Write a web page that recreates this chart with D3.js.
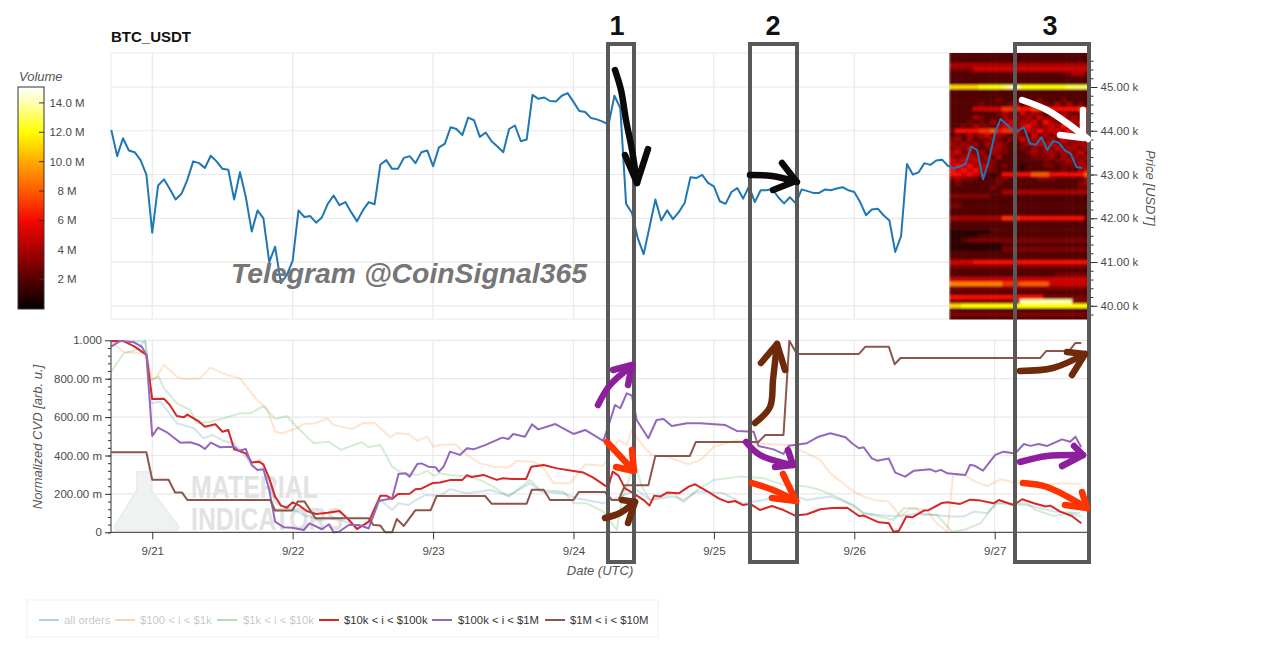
<!DOCTYPE html>
<html lang="en">
  <head>
    <meta charset="UTF-8" />
    <title>BTC_USDT</title>
    <script src="https://d3js.org/d3.v7.min.js"></script>
    <style>
      html, body { margin: 0; padding: 0; background: #fff; }
      svg { display: block; font-family: "Liberation Sans", Arial, sans-serif; }
      .axis text { fill: #4a4a4a; font-size: 11.5px; font-family: "Liberation Sans", Arial, sans-serif; }
      .axis line, .axis path { stroke: #333; }
      .grid line { stroke: #e9e9e9; stroke-width: 1.2; }
      .ital { font-style: italic; fill: #555; font-size: 13px; }
    </style>
  </head>
  <body>
    <svg width="1280" height="647"></svg>
    <script>
      // hours after 2021-09-20 17:00 UTC, one price per hour
      const startTime = Date.UTC(2021, 8, 20, 17);

      const priceValues = [
        44.02, 43.42, 43.83, 43.55, 43.51, 43.33, 43.0, 41.67, 42.75, 42.89, 42.67, 42.43, 42.56, 42.88,
        43.3, 43.26, 43.15, 43.43, 43.3, 43.13, 43.11, 42.43, 43.05, 42.48, 41.7, 42.18, 42.0, 41.0,
        41.35, 40.52, 40.7, 41.03, 42.18, 42.03, 42.05, 41.9, 42.02, 42.33, 42.52, 42.3, 42.37, 42.14,
        41.93, 42.18, 42.37, 42.32, 43.23, 43.33, 43.13, 43.13, 43.38, 43.42, 43.26, 43.51, 43.55,
        43.19, 43.62, 43.7, 44.08, 44.04, 43.9, 44.3, 44.24, 43.86, 43.96, 43.76, 43.64, 43.51, 44.04,
        44.12, 43.76, 43.8, 44.82, 44.73, 44.76, 44.68, 44.67, 44.8, 44.86, 44.66, 44.45, 44.43, 44.29,
        44.26, 44.21, 44.14, 44.8, 44.52, 42.33, 42.12, 41.54, 41.18, 41.8, 42.43, 41.95, 42.18, 41.98,
        42.14, 42.35, 42.94, 42.92, 42.99, 42.81, 42.73, 42.39, 42.33, 42.6, 42.69, 42.45, 42.73, 42.37,
        42.64, 42.64, 42.67, 42.48, 42.34, 42.48, 42.34, 42.66, 42.62, 42.58, 42.58, 42.66, 42.64, 42.68,
        42.71, 42.64, 42.6, 42.37, 42.07, 42.2, 42.22, 42.07, 41.95, 41.23, 41.59, 43.24, 43.0, 43.05,
        43.26, 43.22, 43.32, 43.34, 43.2, 43.14, 43.18, 43.24, 43.64, 43.56, 42.89, 43.32, 43.92, 44.27,
        44.15, 44.02, 44.0, 44.08, 43.71, 43.68, 43.85, 43.56, 43.77, 43.72, 43.55, 43.47, 43.17, 43.15,
      ];

      // [hour, normalized CVD]
      const cvdAll = [
        [0, 0.99], [3, 0.995], [5.8, 0.993], [6.8, 0.672], [8.4, 0.68], [9.5, 0.637], [11.2, 0.568], [14.1, 0.542],
        [15.8, 0.49], [17.2, 0.507], [19.2, 0.476], [21, 0.464], [23.8, 0.359], [25.5, 0.377], [27, 0.255],
        [28, 0.151], [30, 0.134], [32.9, 0.09], [35.7, 0.064], [38.6, 0.073], [42, 0.03], [44.3, 0.047], [46, 0.168],
        [48, 0.116], [49.1, 0.151], [50.8, 0.142], [52.3, 0.172], [53.7, 0.194], [56.2, 0.191], [57.9, 0.224],
        [60.8, 0.203], [64.8, 0.22], [67.9, 0.191], [71.6, 0.255], [73.3, 0.212], [77.3, 0.203], [79.6, 0.177],
        [84.1, 0.151], [87, 0.186], [89.8, 0.22], [92.1, 0.168], [96.1, 0.186], [97.8, 0.168], [100.1, 0.212],
        [104.6, 0.203], [108, 0.151], [111.5, 0.168], [115.5, 0.203], [118.9, 0.168], [122.9, 0.186], [124.6, 0.168],
        [126.9, 0.142], [128.6, 0.099], [133.7, 0.082], [138.3, 0.099], [143.4, 0.082], [145.7, 0.082], [147.4, 0.108],
        [149.7, 0.099], [151.4, 0.151], [156.5, 0.142], [161.1, 0.108], [165.6, 0.099],
      ];
      const cvd100 = [
        [0, 0.99], [2.1, 0.94], [4.4, 0.932], [5.8, 0.94], [7, 0.793], [7.8, 0.81], [9, 0.873], [11.2, 0.81], [12.4, 0.799],
        [15.2, 0.802], [16.9, 0.858], [19.8, 0.82], [22, 0.802], [24.9, 0.689], [26.6, 0.646], [28, 0.524], [29.2, 0.516],
        [31.7, 0.542], [32.9, 0.564], [34.9, 0.568], [36.9, 0.594], [38, 0.559], [41.1, 0.538], [43.1, 0.568], [45.1, 0.568],
        [47.7, 0.495], [48.8, 0.516], [50.8, 0.512], [52.3, 0.476], [54, 0.498], [55, 0.446], [56.2, 0.455], [58.8, 0.458],
        [60.8, 0.403], [63, 0.359], [65.3, 0.342], [67.9, 0.337], [69.3, 0.372], [72.2, 0.368], [73.9, 0.333], [75.6, 0.255],
        [78.4, 0.255], [81, 0.354], [84.1, 0.347], [86.7, 0.481], [88.1, 0.455], [89, 0.533], [91, 0.446], [92.4, 0.403],
        [95, 0.394], [98.7, 0.354], [100.7, 0.377], [103, 0.446], [106.9, 0.481], [109.2, 0.464], [115.5, 0.455],
        [118.9, 0.411], [121.2, 0.377], [122.9, 0.307], [126.9, 0.212], [128.6, 0.186], [130.9, 0.165], [132.9, 0.16],
        [134.9, 0.082], [136.6, 0.125], [139.4, 0.116], [141.1, 0.047], [142.9, 0.003], [143.9, 0.299], [145.7, 0.299],
        [147.7, 0.264], [149.7, 0.241], [152, 0.276], [154.2, 0.259], [157.7, 0.241], [162.2, 0.255], [165.8, 0.252],
      ];
      const cvd1k = [
        [0, 0.837], [2.1, 0.932], [4.4, 0.95], [5.8, 1.0], [6.7, 0.793], [8.1, 0.81], [9, 0.75], [11.2, 0.672], [13.5, 0.637],
        [14.6, 0.568], [16.9, 0.576], [19.2, 0.594], [22, 0.62], [23.8, 0.62], [26, 0.658], [28, 0.589], [30, 0.606],
        [31.7, 0.55], [34.6, 0.464], [37.2, 0.472], [39.2, 0.429], [42.8, 0.469], [44, 0.443], [46, 0.455], [48, 0.342],
        [49.7, 0.307], [52.5, 0.299], [54, 0.321], [55.1, 0.295], [56.2, 0.307], [57.9, 0.299], [60.8, 0.29], [63, 0.273],
        [65.3, 0.238], [67.9, 0.186], [71.6, 0.273], [73.3, 0.22], [77.3, 0.212], [79, 0.151], [81.3, 0.151], [84.1, 0.108],
        [86.4, 0.012], [87.3, 0.177], [89.5, 0.359], [90.7, 0.238], [92.1, 0.168], [96.1, 0.203], [97.8, 0.156], [100.1, 0.22],
        [103, 0.273], [107.5, 0.29], [111.5, 0.281], [114.9, 0.247], [118.9, 0.238], [121.2, 0.22], [124.6, 0.177],
        [126.9, 0.134], [128.6, 0.099], [131.2, 0.082], [133.7, 0.064], [135.4, 0.125], [137.7, 0.125], [138.5, 0.09],
        [141.1, 0.09], [143.7, 0.003], [145.7, 0.012], [148.6, 0.047], [151.1, 0.151], [156.5, 0.151], [158, 0.116],
        [161.1, 0.085], [163.9, 0.099], [165.8, 0.082],
      ];
      const cvd10k = [
        [0, 0.997], [2, 0.997], [4, 0.967], [6, 0.924], [7, 0.694], [9, 0.696], [10, 0.663], [11.2, 0.606], [12.4, 0.599],
        [13, 0.613], [15, 0.576], [16, 0.55], [17.8, 0.5625], [19, 0.524], [20, 0.533], [21, 0.432], [23, 0.411], [24, 0.363],
        [25.2, 0.368], [26, 0.354], [27, 0.281], [28, 0.186], [29, 0.139], [30, 0.128], [31, 0.156], [32, 0.142], [33.4, 0.111],
        [35, 0.095], [37, 0.102], [39, 0.111], [40.5, 0.068], [42, 0.017], [44, 0.056], [46, 0.191], [47, 0.191], [48, 0.174],
        [49, 0.2], [51, 0.201], [52, 0.224], [53, 0.227], [55, 0.257], [56.2, 0.259], [58, 0.273], [60, 0.273], [60.8, 0.297],
        [61.6, 0.288], [63.6, 0.299], [65.9, 0.273], [66.8, 0.281], [68.7, 0.278], [70.9, 0.278], [71.8, 0.342], [73.9, 0.351],
        [76.2, 0.333], [79, 0.319], [80.7, 0.311], [82.4, 0.285], [84.4, 0.243], [85, 0.241], [85.7, 0.316], [86.7, 0.295],
        [87.8, 0.229], [89, 0.208], [91, 0.168], [92, 0.139], [92.8, 0.191], [93.8, 0.186], [95, 0.207], [97, 0.203],
        [98.7, 0.238], [99.8, 0.25], [101.8, 0.215], [103.8, 0.177], [105.5, 0.156], [106.6, 0.163], [108, 0.142],
        [109.2, 0.148], [110.9, 0.116], [112.9, 0.137], [114.9, 0.116], [116.9, 0.087], [118.9, 0.094], [121.2, 0.12],
        [123.2, 0.127], [125.8, 0.128], [127.8, 0.085], [128.6, 0.087], [131.2, 0.052], [132.9, 0.047], [133.7, 0.003],
        [134.6, 0.007], [135.9, 0.082], [136.9, 0.078], [138.9, 0.113], [139.7, 0.115], [142, 0.153], [142.9, 0.156],
        [145.1, 0.148], [146.8, 0.17], [148.6, 0.165], [150.8, 0.151], [151.7, 0.168], [154.2, 0.142], [155.7, 0.172],
        [157.7, 0.151], [159.7, 0.134], [160.5, 0.139], [162.2, 0.108], [164.2, 0.085], [165.8, 0.047],
      ];
      const cvd100k = [
        [0, 0.967], [1.5, 0.997], [3.8, 0.99], [5.2, 0.967], [6, 0.924], [7, 0.502], [8, 0.545], [9.5, 0.521], [10.6, 0.495],
        [11.8, 0.467], [13.5, 0.469], [15, 0.455], [16, 0.434], [17, 0.467], [18.6, 0.443], [21, 0.446], [21.8, 0.425],
        [23, 0.434], [24, 0.351], [25, 0.325], [26, 0.328], [27, 0.22], [28, 0.056], [29.5, 0.026], [30.9, 0.024], [32.9, 0.012],
        [33.9, 0.047], [36, 0.016], [37.2, 0.042], [38, 0], [38.9, 0.003], [40.6, 0.038], [42.3, 0.038], [43.1, 0.03], [44, 0.02],
        [45.7, 0.163], [48, 0.177], [49.1, 0.304], [50.3, 0.307], [51, 0.29], [52.3, 0.356], [53, 0.359], [54.2, 0.342],
        [55.4, 0.339], [56, 0.316], [56.8, 0.342], [57.9, 0.42], [59.6, 0.403], [60.8, 0.438], [61.9, 0.432], [63.9, 0.454],
        [66.8, 0.493], [67.9, 0.486], [68.7, 0.512], [70.7, 0.498], [71.9, 0.562], [73, 0.536], [75.9, 0.564], [79, 0.512],
        [81, 0.533], [84.1, 0.476], [85.3, 0.585], [86.1, 0.663], [87, 0.646], [88.1, 0.724], [89, 0.712], [89.8, 0.585],
        [91.8, 0.49], [93.2, 0.585], [94.4, 0.59], [95.8, 0.554], [98.4, 0.568], [100.7, 0.568], [104.9, 0.559], [106.9, 0.528],
        [109.8, 0.524], [110.6, 0.45], [113.2, 0.432], [114.9, 0.408], [115.8, 0.451], [118.9, 0.464], [120.9, 0.498],
        [122.9, 0.516], [125.5, 0.495], [126.6, 0.464], [127.8, 0.4375], [128.6, 0.443], [130, 0.385], [130.9, 0.373],
        [132.9, 0.384], [134, 0.311], [135.7, 0.29], [137.2, 0.321], [140, 0.328], [140.9, 0.316], [141.8, 0.325], [142.9, 0.307],
        [146, 0.299], [146.8, 0.352], [147.7, 0.345], [149, 0.321], [151.1, 0.403], [152.5, 0.42], [154.5, 0.411], [156, 0.46],
        [157.1, 0.45], [158.5, 0.46], [160, 0.45], [162.5, 0.484], [163.9, 0.472], [164.8, 0.498], [165.8, 0.443],
      ];
      const cvd1M = [
        [0, 0.417], [6, 0.417], [7, 0.274], [9.8, 0.274], [10.9, 0.207], [12.1, 0.207], [13, 0.168], [27.2, 0.168], [28, 0.113],
        [30.9, 0.113], [31.9, 0.161], [33, 0.161], [34.9, 0.073], [44, 0.073], [44.8, 0.038], [46, 0.035], [46.8, 0], [48, 0],
        [48.8, 0.069], [50, 0.033], [52, 0.115], [54.6, 0.115], [55.6, 0.189], [63.9, 0.189], [65, 0.149], [71, 0.149],
        [71.9, 0.222], [73.9, 0.222], [75, 0.168], [79, 0.168], [79.9, 0.21], [84.4, 0.21], [85.6, 0.168], [86.7, 0.168],
        [87.8, 0.245], [91.8, 0.245], [93, 0.398], [98.9, 0.398], [99.9, 0.47], [110.6, 0.47], [111.8, 0.507], [114.9, 0.507],
        [115.9, 0.997], [117.2, 0.929], [127.8, 0.929], [128.9, 0.967], [132.9, 0.967], [133.9, 0.875], [134.9, 0.908],
        [158.8, 0.908], [159.8, 0.944], [163.7, 0.944], [164.8, 0.986], [165.8, 0.986],
      ];

      const seriesNames = ["all orders", "$100 < i < $1k", "$1k < i < $10k", "$10k < i < $100k", "$100k < i < $1M", "$1M < i < $10M"];
      const seriesValues = [cvdAll, cvd100, cvd1k, cvd10k, cvd100k, cvd1M];

      // order book volume in M (hex digit per hour), top row 45.8 k, bottom row 39.7 k
      const heatFirstHour = 143.25;
      const heatTopPrice = 45.8;
      const heatRows = [
        "222222222222222222222222",
        "222222222222222222222222", "222222222222222222222222", "444444444444444444444444", "333355555555555555555555",
        "222222222222222222223443", "222222222222222222222222", "222222222222222222222222", "bbbbbccccdeeccccccccdddd",
        "222222222222222222222222", "222222222222222222222222", "222222223222222322232222", "222223222234232332424232",
        "222255555777667766666676", "222222223432534323343232", "222243222434343534453423", "222323242453445364345453",
        "223243324553564345464343", "366667786776354645546453", "232434534324325343443454", "342423343233534434354345",
        "434342434322343545343444", "343532344322324343534434", "453434243322234344344353", "434543424222223334243434",
        "545453332222222232334343", "565645432322122233233344", "656564332222122222232245", "665654212666668886666668",
        "343322223322222333222224", "232222223222222222222234", "222222232222222222222233", "222222222444444444444444",
        "333333322222222222222222", "222222222222222222222222", "332222222222222222222222", "222222222222222222222222",
        "222222222222222222222222", "444444444777666666666663", "222222222222222222222222", "222222222222222222222222",
        "111111122222222222222222", "111112222222222222222222", "112333333333333333333333", "111111111222222222222222",
        "111111111333333333333333", "222222222222222222222222", "222222222222222222222222", "555566666666666666666666",
        "333333333333333333333333", "222222222222222222222222", "222222222222222222333333", "555555555555555555555555",
        "999999999777888885555555", "333333333333333333333333", "222222222222222222222222", "666666666666666633333333",
        "333333333333eeeeeeeee333", "bbcccccccccccccccccccccc", "222222222222222222222222", "333333333333333333333333",
        "222222222222222222222222",
      ];

      const priceTicks = [40, 41, 42, 43, 44, 45];
      const cvdTicks = [0, 0.2, 0.4, 0.6, 0.8, 1];
      const cvdTickLabels = ["0", "200.00 m", "400.00 m", "600.00 m", "800.00 m", "1.000"];
      const volumeTicks = [2, 4, 6, 8, 10, 12, 14];
      const volumeTickLabels = ["2 M", "4 M", "6 M", "8 M", "10.0 M", "12.0 M", "14.0 M"];

      const svg = d3.select("svg");
      const t = (h) => new Date(startTime + h * 3600e3);

      const x = d3.scaleUtc().domain([t(0), t(167)]).range([111.3, 1088.3]);
      const yPrice = d3.scaleLinear().domain([40, 45]).range([305.8, 87]);
      const yCvd = d3.scaleLinear().domain([0, 1]).range([532.3, 340.3]);
      const yVol = d3.scaleLinear().domain([0, 15.08]).range([308.7, 87]);
      const fire = d3
        .scaleLinear()
        .domain([0, 1, 2, 4, 6, 8, 10, 12, 14, 15.08])
        .range(["#000000", "#2c0000", "#520000", "#a80000", "#f20800", "#ff5a00", "#ffa800", "#ffff00", "#ffffb0", "#ffffff"]);

      const dayTicks = x.ticks(d3.utcDay).filter((d) => d > t(1));

      const defs = svg.append("defs");
      defs.append("clipPath").attr("id", "heatClip").append("rect")
        .attr("x", 949).attr("y", 53).attr("width", 139).attr("height", 266.5);
      defs.append("filter").attr("id", "soft").attr("x", "-5%").attr("y", "-5%").attr("width", "110%").attr("height", "110%")
        .append("feGaussianBlur").attr("stdDeviation", 0.8);

      // grid, upper panel
      const grid = svg.append("g").attr("class", "grid");
      grid.append("rect").attr("x", 111).attr("y", 53).attr("width", 978).attr("height", 266).attr("fill", "none").attr("stroke", "#e9e9e9");
      grid.selectAll(".gp").data(priceTicks).enter().append("line")
        .attr("x1", 111).attr("x2", 1089).attr("y1", yPrice).attr("y2", yPrice);
      grid.selectAll(".gd").data(dayTicks).enter().append("line")
        .attr("x1", x).attr("x2", x).attr("y1", 53).attr("y2", 319);
      // grid, lower panel
      grid.selectAll(".gc").data(cvdTicks).enter().append("line")
        .attr("x1", 111).attr("x2", 1089).attr("y1", yCvd).attr("y2", yCvd);
      grid.selectAll(".gd2").data(dayTicks).enter().append("line")
        .attr("x1", x).attr("x2", x).attr("y1", 340).attr("y2", 532);

      // heatmap
      const heat = svg.append("g").attr("clip-path", "url(#heatClip)").append("g").attr("filter", "url(#soft)");
      heatRows.forEach((row, r) => {
        const p = heatTopPrice - r * 0.1;
        heat.selectAll(null).data(row.split("")).enter().append("rect")
          .attr("x", (d, i) => x(t(heatFirstHour + i)))
          .attr("width", (d, i) => x(t(heatFirstHour + i + 1)) - x(t(heatFirstHour + i)) + 0.5)
          .attr("y", yPrice(p + 0.05))
          .attr("height", yPrice(p - 0.05) - yPrice(p + 0.05) + 0.5)
          .attr("fill", (d) => fire(parseInt(d, 16)));
      });

      // price axis on the right
      svg.append("g").attr("class", "axis").attr("transform", "translate(1090.5,0)")
        .call(d3.axisRight(yPrice).tickValues(priceTicks).tickSize(7).tickFormat((d) => d.toFixed(2) + " k"))
        .call((g) => g.select(".domain").remove());
      svg.append("g").attr("class", "axis").attr("transform", "translate(1090.5,0)")
        .call(d3.axisRight(yPrice).tickValues(d3.range(39.8, 45.8, 0.2)).tickSize(3).tickFormat(""))
        .call((g) => g.select(".domain").remove());

      // price line
      svg.append("path").datum(priceValues)
        .attr("fill", "none").attr("stroke", "#1f77b4").attr("stroke-width", 2).attr("stroke-linejoin", "round")
        .attr("d", d3.line().x((d, i) => x(t(i))).y((d) => yPrice(d)));

      // faint logo behind the lower panel
      const logo = svg.append("g").attr("fill", "#e2e2e2");
      logo.append("path").attr("fill", "#eef3f1").attr("stroke", "#ececec").attr("stroke-width", 2)
        .attr("d", "M137 472 L151 472 L151 490 L178 526 Q180 530 175 530 L118 530 Q113 530 115 526 L137 490 Z");
      logo.append("text").attr("x", 191).attr("y", 498).attr("font-size", 31).attr("font-weight", "bold")
        .attr("textLength", 127).attr("lengthAdjust", "spacingAndGlyphs").text("MATERIAL");
      logo.append("text").attr("x", 191).attr("y", 530).attr("font-size", 31).attr("font-weight", "bold")
        .attr("textLength", 152).attr("lengthAdjust", "spacingAndGlyphs").text("INDICATORS");

      // cvd lines
      const lineCvd = d3.line().x((d) => x(t(d[0]))).y((d) => yCvd(d[1]));
      const lineColours = ["#1f77b4", "#ff7f0e", "#2ca02c", "#d62728", "#9467bd", "#8c564b"];
      const lineAlpha = [0.2, 0.2, 0.2, 1, 1, 1];
      svg.selectAll(".cvd").data(seriesValues).enter().append("path")
        .attr("fill", "none").attr("stroke-width", 2).attr("stroke-linejoin", "round")
        .attr("stroke", (d, i) => lineColours[i]).attr("stroke-opacity", (d, i) => lineAlpha[i])
        .attr("d", lineCvd);

      // lower axes
      svg.append("g").attr("class", "axis").attr("transform", "translate(111,0)")
        .call(d3.axisLeft(yCvd).tickValues(cvdTicks).tickSize(6).tickFormat((d, i) => cvdTickLabels[i]))
        .call((g) => g.select(".domain").attr("d", `M0,${yCvd(1)}V${yCvd(0)}`));
      svg.append("g").attr("class", "axis").attr("transform", "translate(111,0)")
        .call(d3.axisLeft(yCvd).tickValues(d3.range(0, 1, 0.04)).tickSize(3).tickFormat(""))
        .call((g) => g.select(".domain").remove());
      svg.append("g").attr("class", "axis").attr("transform", "translate(0,532.3)")
        .call(d3.axisBottom(x).tickValues(dayTicks).tickSize(7).tickPadding(8).tickFormat(d3.utcFormat("%-m/%-d")))
        .call((g) => g.select(".domain").attr("d", "M111,0H1089"));

      // titles
      svg.append("text").attr("x", 111).attr("y", 42).attr("font-size", 15).attr("font-weight", "bold").attr("fill", "#111").text("BTC_USDT");
      svg.append("text").attr("class", "ital").attr("x", 19).attr("y", 81).text("Volume");
      svg.append("text").attr("class", "ital").attr("transform", "translate(1146,188) rotate(90)").attr("text-anchor", "middle").text("Price [USDT]");
      svg.append("text").attr("class", "ital").attr("transform", "translate(42,437) rotate(-90)").attr("text-anchor", "middle").text("Normalized CVD [arb. u.]");
      svg.append("text").attr("class", "ital").attr("x", 600).attr("y", 575).attr("text-anchor", "middle").text("Date (UTC)");

      // colour bar
      const grad = defs.append("linearGradient").attr("id", "vol").attr("x1", 0).attr("x2", 0).attr("y1", 1).attr("y2", 0);
      d3.range(0, 15.1, 0.5).forEach((v) => grad.append("stop").attr("offset", v / 15.08).attr("stop-color", fire(Math.min(v, 15.08))));
      svg.append("rect").attr("x", 18).attr("y", 87).attr("width", 26).attr("height", 222).attr("fill", "url(#vol)").attr("stroke", "#333");
      svg.selectAll(".vt").data(volumeTicks).enter().append("line")
        .attr("x1", 39).attr("x2", 44).attr("y1", yVol).attr("y2", yVol).attr("stroke", "#333");
      svg.selectAll(".vl").data(volumeTicks).enter().append("text")
        .attr("x", 67).attr("y", (d) => yVol(d) + 4).attr("text-anchor", "middle")
        .attr("font-size", 11.5).attr("fill", "#4a4a4a").text((d, i) => volumeTickLabels[i]);

      // legend
      const legendLineX = [39, 115, 217, 319, 432, 545];
      const legendTextX = [64, 140, 243, 344, 458, 570];
      const legendAlpha = [0.3, 0.3, 0.3, 1, 1, 1];
      svg.append("rect").attr("x", 27).attr("y", 600).attr("width", 631).attr("height", 37).attr("fill", "none").attr("stroke", "#f0f0f0");
      seriesNames.forEach((name, i) => {
        svg.append("line").attr("x1", legendLineX[i]).attr("x2", legendLineX[i] + 20).attr("y1", 620).attr("y2", 620)
          .attr("stroke", lineColours[i]).attr("stroke-width", 2).attr("stroke-opacity", i < 3 ? 0.35 : 1);
        svg.append("text").attr("x", legendTextX[i]).attr("y", 624).attr("font-size", 11.3)
          .attr("fill", "#333").attr("fill-opacity", legendAlpha[i]).text(name);
      });

      // watermark
      svg.append("text").attr("x", 231).attr("y", 283).attr("font-size", 28).attr("font-weight", "bold").attr("font-style", "italic")
        .attr("fill", "#767676").attr("textLength", 356).attr("lengthAdjust", "spacingAndGlyphs").text("Telegram @CoinSignal365");

      // hand drawn annotation over the screenshot, in page pixels
      const boxes = [[608, 44, 26, 518, "1", 617], [750, 44, 47, 518, "2", 773], [1015, 44, 74, 518, "3", 1050]];
      boxes.forEach((b) => {
        svg.append("rect").attr("x", b[0]).attr("y", b[1]).attr("width", b[2]).attr("height", b[3])
          .attr("fill", "none").attr("stroke", "#595959").attr("stroke-width", 4);
        svg.append("text").attr("x", b[5]).attr("y", 35).attr("text-anchor", "middle").attr("font-size", 27)
          .attr("font-weight", "bold").attr("fill", "#111").text(b[4]);
      });
      const arrows = [
        { c: "#0a0a0a", shaft: [[615, 70], [621, 90], [626, 120], [632, 150], [637, 183]], head: [[625, 155], [637, 183], [648, 149]] },
        { c: "#0a0a0a", shaft: [[750, 175], [772, 176], [797, 182]], head: [[782, 163], [796, 181], [773, 190]] },
        { c: "#ffffff", shaft: [[1022, 100], [1047, 110], [1067, 123], [1088, 139]], head: [[1083, 110], [1083, 138], [1060, 135]] },
        { c: "#8e1f9c", shaft: [[598, 405], [610, 385], [632, 366]], head: [[613, 370], [632, 365], [628, 385]] },
        { c: "#ff3300", shaft: [[607, 442], [620, 456], [633, 470]], head: [[632, 450], [634, 471], [616, 467]] },
        { c: "#6e2a0a", shaft: [[605, 518], [620, 513], [635, 502]], head: [[622, 500], [635, 502], [628, 523]] },
        { c: "#6e2a0a", shaft: [[755, 423], [770, 407], [773, 380], [777, 344]], head: [[761, 363], [777, 344], [785, 370]] },
        { c: "#8e1f9c", shaft: [[746, 442], [760, 455], [793, 465]], head: [[788, 450], [793, 465], [775, 467]] },
        { c: "#ff3300", shaft: [[752, 483], [773, 490], [796, 501]], head: [[783, 474], [796, 501], [772, 498]] },
        { c: "#6e2a0a", shaft: [[1020, 371], [1053, 368], [1085, 354]], head: [[1067, 352], [1085, 354], [1072, 375]] },
        { c: "#8e1f9c", shaft: [[1020, 462], [1047, 456], [1083, 455]], head: [[1074, 446], [1083, 455], [1062, 466]] },
        { c: "#ff3300", shaft: [[1023, 483], [1047, 487], [1087, 508]], head: [[1082, 492], [1087, 508], [1065, 505]] },
      ];
      const stroke = d3.line().curve(d3.curveCatmullRom);
      arrows.forEach((a) => {
        svg.append("path").attr("d", stroke(a.shaft)).attr("fill", "none").attr("stroke", a.c)
          .attr("stroke-width", 6.5).attr("stroke-linecap", "round");
        svg.append("path").attr("d", d3.line()(a.head)).attr("fill", "none").attr("stroke", a.c)
          .attr("stroke-width", 6.5).attr("stroke-linecap", "round").attr("stroke-linejoin", "round");
      });
    </script>
  </body>
</html>
